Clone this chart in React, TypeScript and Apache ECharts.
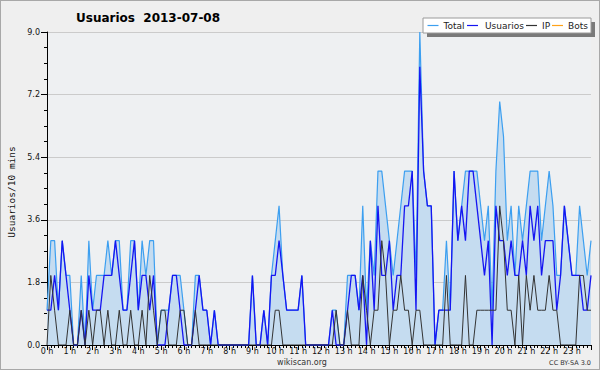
import React, { useEffect, useRef } from "react";
import * as echarts from "echarts";

// 10-minute slots, 0..143 (6 per hour)
const total = [
  1, 3, 3, 1, 3, 2, 2, 0, 0, 2, 0, 3,
  1, 2, 2, 2, 3, 2, 3, 3, 1, 1, 3, 3,
  1, 3, 2, 3, 3, 0, 1, 1, 1, 2, 2, 2,
  1, 0, 0, 2, 2, 1, 1, 0, 1, 0, 0, 0,
  0, 0, 0, 0, 0, 0, 2, 0, 0, 1, 0, 2,
  3, 4, 2, 1, 1, 1, 1, 2, 0, 0, 0, 0,
  0, 0, 0, 1, 1, 0, 0, 2, 2, 2, 1, 4,
  1, 3, 2, 5, 5, 4, 3, 2, 3, 4, 5, 5,
  5, 2, 9, 5, 4, 4, 0, 1, 1, 3, 1, 5,
  3, 4, 5, 5, 5, 5, 4, 3, 4, 1, 5, 7,
  6, 3, 4, 2, 4, 3, 4, 5, 5, 5, 3, 4,
  5, 4, 2, 2, 4, 3, 2, 2, 4, 3, 2, 3,
];
const usuarios = [
  1, 1, 2, 1, 3, 2, 1, 0, 0, 1, 0, 2,
  1, 1, 1, 2, 2, 2, 3, 2, 1, 1, 2, 3,
  1, 2, 2, 1, 2, 0, 0, 0, 1, 2, 2, 1,
  0, 0, 0, 1, 2, 1, 1, 0, 1, 0, 0, 0,
  0, 0, 0, 0, 0, 0, 2, 0, 0, 1, 0, 2,
  2, 3, 2, 1, 1, 1, 1, 2, 0, 0, 0, 0,
  0, 0, 0, 1, 0, 0, 0, 1, 2, 2, 1, 2,
  0, 3, 1, 4, 2, 2, 3, 1, 2, 2, 4, 4,
  5, 1, 8, 5, 4, 4, 0, 1, 1, 1, 1, 5,
  3, 4, 3, 5, 5, 4, 3, 2, 3, 0, 4, 3,
  3, 2, 3, 2, 2, 3, 2, 4, 3, 4, 2, 3,
  3, 3, 1, 2, 4, 3, 2, 2, 2, 1, 1, 2,
];
const ip = [
  0, 2, 1, 0, 0, 0, 1, 0, 0, 1, 0, 1,
  0, 1, 1, 0, 1, 0, 0, 1, 0, 0, 1, 0,
  0, 1, 0, 2, 1, 0, 1, 1, 0, 0, 0, 1,
  1, 0, 0, 1, 0, 0, 0, 0, 0, 0, 0, 0,
  0, 0, 0, 0, 0, 0, 0, 0, 0, 0, 0, 0,
  1, 1, 0, 0, 0, 0, 0, 0, 0, 0, 0, 0,
  0, 0, 0, 0, 1, 0, 0, 1, 0, 0, 0, 2,
  1, 0, 1, 1, 3, 2, 0, 1, 1, 2, 1, 1,
  0, 1, 1, 0, 0, 0, 0, 0, 0, 2, 0, 0,
  0, 0, 2, 0, 0, 1, 1, 1, 1, 1, 1, 4,
  3, 1, 1, 0, 2, 0, 2, 1, 2, 1, 1, 1,
  2, 1, 1, 0, 0, 0, 0, 0, 2, 2, 1, 1,
];
const yTicks = [0, 1.8, 3.6, 5.4, 7.2, 9.0];
const legendItems = [
  { name: "Total", color: "#3c9ff0" },
  { name: "Usuarios", color: "#1515f2" },
  { name: "IP", color: "#333333" },
  { name: "Bots", color: "#ffa31a" },
];

const FONT = "DejaVu Sans";

export default function App() {
  const ref = useRef<HTMLDivElement>(null);
  useEffect(() => {
    if (!ref.current) return;
    const chart = echarts.init(ref.current, null, { renderer: "svg" });
    const toPts = (arr: number[]) => arr.map((v, i) => [i, v]);

    // legend built with graphic elements
    const lg: any[] = [];
    const lx = 422, ly = 17, lw = 168, lh = 15;
    lg.push({ type: "rect", shape: { x: lx + 4, y: ly + 4, width: lw, height: lh }, style: { fill: "#7a7a7a" }, z: 10 });
    lg.push({ type: "rect", shape: { x: lx, y: ly, width: lw, height: lh }, style: { fill: "#ffffff", stroke: "#9a9a9a", lineWidth: 1 }, z: 11 });
    const pos = [
      { l: 426.5, t: 442.5 },
      { l: 466, t: 484 },
      { l: 525, t: 541 },
      { l: 551, t: 567 },
    ];
    legendItems.forEach((it, k) => {
      lg.push({ type: "line", shape: { x1: pos[k].l, y1: ly + 7.5, x2: pos[k].l + 11, y2: ly + 7.5 }, style: { stroke: it.color, lineWidth: 1.2 }, z: 12 });
      lg.push({ type: "text", x: pos[k].t, y: ly + 8, style: { text: it.name, fill: "#222", font: `9px '${FONT}'`, textVerticalAlign: "middle" }, z: 12 });
    });

    chart.setOption({
      animation: false,
      backgroundColor: "#efefef",
      title: {
        text: "Usuarios  2013-07-08",
        left: 75,
        top: 11,
        padding: 0,
        textStyle: { fontFamily: FONT, fontSize: 12, fontWeight: "bold", color: "#000" },
      },
      grid: { left: 46, top: 31, width: 544, height: 313, show: true, backgroundColor: "#eef0f2", borderWidth: 0 },
      xAxis: {
        type: "value",
        min: 0,
        max: 143,
        interval: 6,
        axisLine: { lineStyle: { color: "#000", width: 1 } },
        axisTick: { length: 5, lineStyle: { color: "#000" } },
        minorTick: { show: true, splitNumber: 6, length: 3, lineStyle: { color: "#000" } },
        splitLine: { show: false },
        axisLabel: { margin: 2, fontFamily: FONT, fontSize: 8, color: "#111", formatter: (v: number) => `${v / 6} h` },
      },
      yAxis: {
        type: "value",
        min: yTicks[0],
        max: yTicks[yTicks.length - 1],
        interval: 1.8,
        axisLine: { show: true, lineStyle: { color: "#000", width: 1 } },
        axisTick: { show: true, length: 6, lineStyle: { color: "#000" } },
        minorTick: { show: true, splitNumber: 4, length: 3, lineStyle: { color: "#000" } },
        splitLine: { show: true, lineStyle: { color: "#cbcbcb", width: 1 } },
        axisLabel: { margin: 7, fontFamily: FONT, fontSize: 8, color: "#111", formatter: (v: number) => v.toFixed(1) },
      },
      graphic: [
        { type: "text", x: 10, y: 191, rotation: Math.PI / 2, style: { text: "Usuarios/10 mins", fill: "#111", font: `9.5px 'DejaVu Sans Mono'`, textAlign: "center", textVerticalAlign: "middle" } },
        { type: "text", x: 301, y: 361, style: { text: "wikiscan.org", fill: "#333", font: `8px '${FONT}'`, textAlign: "center", textVerticalAlign: "middle" } },
        { type: "text", x: 590, y: 362, style: { text: "CC BY-SA 3.0", fill: "#333", font: `6.5px '${FONT}'`, textAlign: "right", textVerticalAlign: "middle" } },
        ...lg,
      ],
      series: [
        {
          name: "Total", type: "line", data: toPts(total), showSymbol: false, symbol: "none",
          lineStyle: { color: legendItems[0].color, width: 1.2 },
          areaStyle: { color: "#c5dcf0", opacity: 1 },
        },
        {
          name: "Usuarios", type: "line", data: toPts(usuarios), showSymbol: false, symbol: "none",
          lineStyle: { color: legendItems[1].color, width: 1.3 },
        },
        {
          name: "IP", type: "line", data: toPts(ip), showSymbol: false, symbol: "none",
          lineStyle: { color: legendItems[2].color, width: 1 },
        },
      ],
    });
    return () => chart.dispose();
  }, []);
  return (
    <div
      ref={ref}
      style={{ position: "fixed", left: 0, top: 0, width: 600, height: 370, boxSizing: "border-box", border: "1px solid #a8a8a8" }}
    />
  );
}
